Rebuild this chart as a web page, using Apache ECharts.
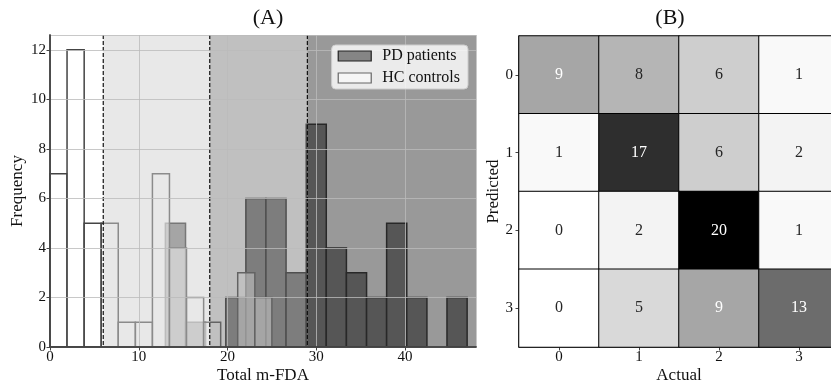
<!DOCTYPE html>
<html>
<head>
<meta charset="UTF-8">
<title>m-FDA</title>
<script src="https://cdn.jsdelivr.net/npm/echarts@6/dist/echarts.min.js"></script>
<style>
html, body { margin: 0; padding: 0; background: #fff; }
#main { width: 831px; height: 386px; }
</style>
</head>
<body>
<div id="main"></div>
<script type="text/javascript">
// (A) histogram data
var pdEdges = [13, 15.27, 17.53, 19.8, 22.07, 24.33, 26.6, 28.87, 31.13, 33.4, 35.67, 37.93, 40.2, 42.47, 44.73, 47];
var pdCounts = [5, 1, 0, 2, 6, 6, 3, 9, 4, 3, 2, 5, 2, 0, 2];
var hcEdges = [0, 1.92, 3.85, 5.77, 7.69, 9.62, 11.54, 13.46, 15.38, 17.31, 19.23, 21.15, 23.08, 25];
var hcCounts = [7, 12, 5, 5, 1, 1, 7, 4, 2, 1, 0, 3, 2];
var cuts = [6, 18, 29];
var bandEdges = [0, 6, 18, 29, 48];

// (B) confusion matrix, one array per predicted row
var actualLabels = ['0', '1', '2', '3'];
var predictedLabels = ['0', '1', '2', '3'];
var pred0 = [9, 8, 6, 1];
var pred1 = [1, 17, 6, 2];
var pred2 = [0, 2, 20, 1];
var pred3 = [0, 5, 9, 13];

var serif = 'Liberation Serif, Times New Roman, serif';
var bandColors = ['rgba(255,255,255,0)', 'rgba(209,209,209,0.5)', 'rgba(129,129,129,0.5)', 'rgba(51,51,51,0.5)'];
var greys = ['#ffffff', '#f0f0f0', '#d9d9d9', '#bdbdbd', '#969696', '#737373', '#525252', '#252525', '#000000'];

function toBins(edges, counts) {
	var out = [];
	for (var i = 0; i < counts.length; i++) {
		out.push([edges[i], edges[i + 1], counts[i]]);
	}
	return out;
}

function barRenderer(fill, stroke) {
	return function (params, api) {
		var h = api.value(2);
		if (!h) return null;
		var a = api.coord([api.value(0), h]);
		var b = api.coord([api.value(1), 0]);
		return {
			type: 'rect',
			shape: { x: a[0], y: a[1], width: b[0] - a[0], height: b[1] - a[1] },
			style: { fill: fill, stroke: stroke, lineWidth: 1.5 }
		};
	};
}

var bands = [];
for (var i = 0; i < bandEdges.length - 1; i++) {
	bands.push([bandEdges[i], bandEdges[i + 1], i]);
}

var cells = [];
[pred0, pred1, pred2, pred3].forEach(function (row, r) {
	row.forEach(function (v, c) {
		cells.push({ value: [c, r, v], label: { color: v >= 9 ? '#ffffff' : '#262626' } });
	});
});

var chart = echarts.init(document.getElementById('main'));
var option = {
	animation: false,
	textStyle: { fontFamily: serif },
	title: [
		{ text: '(A)', left: 263, top: 2, textAlign: 'center', textStyle: { fontFamily: serif, fontSize: 22, fontWeight: 'normal', color: '#111' } },
		{ text: '(B)', left: 665, top: 2, textAlign: 'center', textStyle: { fontFamily: serif, fontSize: 22, fontWeight: 'normal', color: '#111' } }
	],
	legend: {
		orient: 'vertical',
		right: 363,
		top: 45,
		z: 20,
		selectedMode: false,
		itemWidth: 33,
		itemHeight: 10,
		itemGap: 6,
		padding: [3, 8, 3, 6],
		backgroundColor: 'rgba(255,255,255,0.8)',
		borderColor: '#cccccc',
		borderWidth: 1,
		borderRadius: 4,
		textStyle: { fontFamily: serif, fontSize: 16, color: '#111', lineHeight: 16, padding: [0, 0, 0, 6] },
		data: [
			{ name: 'PD patients', icon: 'rect', itemStyle: { color: '#858585', borderColor: '#222', borderWidth: 1.2 } },
			{ name: 'HC controls', icon: 'rect', itemStyle: { color: '#f6f6f6', borderColor: '#666', borderWidth: 1.2 } }
		]
	},
	grid: [
		{ left: 50, top: 35, width: 426, height: 312, outerBoundsMode: 'none', containLabel: false, backgroundColor: '#ffffff', show: true, borderWidth: 0 },
		{ left: 519, top: 36, width: 320, height: 311, outerBoundsMode: 'none', containLabel: false }
	],
	xAxis: [
		{
			type: 'value', gridIndex: 0, min: 0, max: 48, interval: 10, z: 10,
			name: 'Total m-FDA', nameLocation: 'middle', nameGap: 20, nameMoveOverlap: false,
			nameTextStyle: { fontFamily: serif, fontSize: 17, color: '#111' },
			axisLine: { show: true, lineStyle: { color: '#444', width: 1.5 } },
			axisTick: { show: true, length: 3.5, lineStyle: { color: '#444' } },
			axisLabel: { fontFamily: serif, fontSize: 15, color: '#111', margin: 3, showMaxLabel: false },
			splitLine: { show: true, lineStyle: { color: 'rgba(186,186,186,0.8)', width: 1 } }
		},
		{
			type: 'value', gridIndex: 0, position: 'top', min: 0, max: 48, z: 10,
			axisLine: { show: true, lineStyle: { color: '#444', width: 1.5 } },
			axisTick: { show: false }, axisLabel: { show: false }, splitLine: { show: false }
		},
		{
			type: 'category', gridIndex: 1, data: actualLabels,
			name: 'Actual', nameLocation: 'middle', nameGap: 20, nameMoveOverlap: false,
			nameTextStyle: { fontFamily: serif, fontSize: 17, color: '#111' },
			axisLine: { show: true, lineStyle: { color: '#444', width: 1.5 } },
			axisTick: { show: true, alignWithLabel: true, length: 3.5, lineStyle: { color: '#444' } },
			axisLabel: { fontFamily: serif, fontSize: 15, color: '#111', margin: 3 },
			splitLine: { show: false }
		}
	],
	yAxis: [
		{
			type: 'value', gridIndex: 0, min: 0, max: 12.6, interval: 2, z: 10,
			name: 'Frequency', nameLocation: 'middle', nameGap: 24, nameMoveOverlap: false,
			nameTextStyle: { fontFamily: serif, fontSize: 17, color: '#111' },
			axisLine: { show: true, lineStyle: { color: '#444', width: 1.5 } },
			axisTick: { show: true, length: 3.5, lineStyle: { color: '#444' } },
			axisLabel: { fontFamily: serif, fontSize: 15, color: '#111', margin: 4, showMaxLabel: false },
			splitLine: { show: true, lineStyle: { color: 'rgba(186,186,186,0.8)', width: 1 } }
		},
		{
			type: 'value', gridIndex: 0, position: 'right', min: 0, max: 12.6, z: 10,
			axisLine: { show: true, lineStyle: { color: '#444', width: 1.5 } },
			axisTick: { show: false }, axisLabel: { show: false }, splitLine: { show: false }
		},
		{
			type: 'category', gridIndex: 1, data: predictedLabels, inverse: true,
			name: 'Predicted', nameLocation: 'middle', nameGap: 17, nameMoveOverlap: false,
			nameTextStyle: { fontFamily: serif, fontSize: 17, color: '#111' },
			axisLine: { show: true, lineStyle: { color: '#444', width: 1.5 } },
			axisTick: { show: true, alignWithLabel: true, length: 3.5, lineStyle: { color: '#444' } },
			axisLabel: { fontFamily: serif, fontSize: 15, color: '#111', margin: 6 },
			splitLine: { show: false }
		}
	],
	visualMap: {
		show: false, seriesIndex: 5, min: 0, max: 20, dimension: 2,
		inRange: { color: greys }
	},
	series: [
		{
			name: 'PD patients', type: 'custom', xAxisIndex: 0, yAxisIndex: 0, z: 2,
			itemStyle: { color: '#858585' },
			renderItem: barRenderer('#787878', '#1d1d1d'),
			encode: { x: [0, 1], y: 2 },
			data: toBins(pdEdges, pdCounts)
		},
		{
			name: 'HC controls', type: 'custom', xAxisIndex: 0, yAxisIndex: 0, z: 3,
			itemStyle: { color: '#f6f6f6' },
			renderItem: barRenderer('rgba(255,255,255,0.6)', '#444444'),
			encode: { x: [0, 1], y: 2 },
			data: toBins(hcEdges, hcCounts)
		},
		{
			// severity bands, laid over the bars
			name: 'bands', type: 'custom', xAxisIndex: 0, yAxisIndex: 0, z: 4, silent: true,
			renderItem: function (params, api) {
				var cs = params.coordSys;
				var a = api.coord([api.value(0), 0]);
				var b = api.coord([api.value(1), 0]);
				return {
					type: 'rect',
					shape: { x: a[0], y: cs.y, width: b[0] - a[0], height: cs.height },
					style: { fill: bandColors[api.value(2)] }
				};
			},
			encode: { x: [0, 1] },
			data: bands
		},
		{
			name: 'cuts', type: 'custom', xAxisIndex: 0, yAxisIndex: 0, z: 5, silent: true,
			renderItem: function (params, api) {
				var cs = params.coordSys;
				var x = api.coord([api.value(0), 0])[0];
				return {
					type: 'line',
					shape: { x1: x, y1: cs.y, x2: x, y2: cs.y + cs.height },
					style: { stroke: '#111', lineWidth: 1.2, lineDash: [4, 2] }
				};
			},
			encode: { x: 0 },
			data: cuts.map(function (c) { return [c]; })
		},
		{
			name: 'spacer', type: 'custom', xAxisIndex: 0, yAxisIndex: 0,
			renderItem: function () { return null; }, data: []
		},
		{
			name: 'confusion', type: 'heatmap', xAxisIndex: 2, yAxisIndex: 2,
			itemStyle: { borderColor: '#000', borderWidth: 1 },
			label: { show: true, fontFamily: serif, fontSize: 16 },
			emphasis: { disabled: true },
			data: cells
		}
	]
};
chart.setOption(option);
</script>
</body>
</html>
